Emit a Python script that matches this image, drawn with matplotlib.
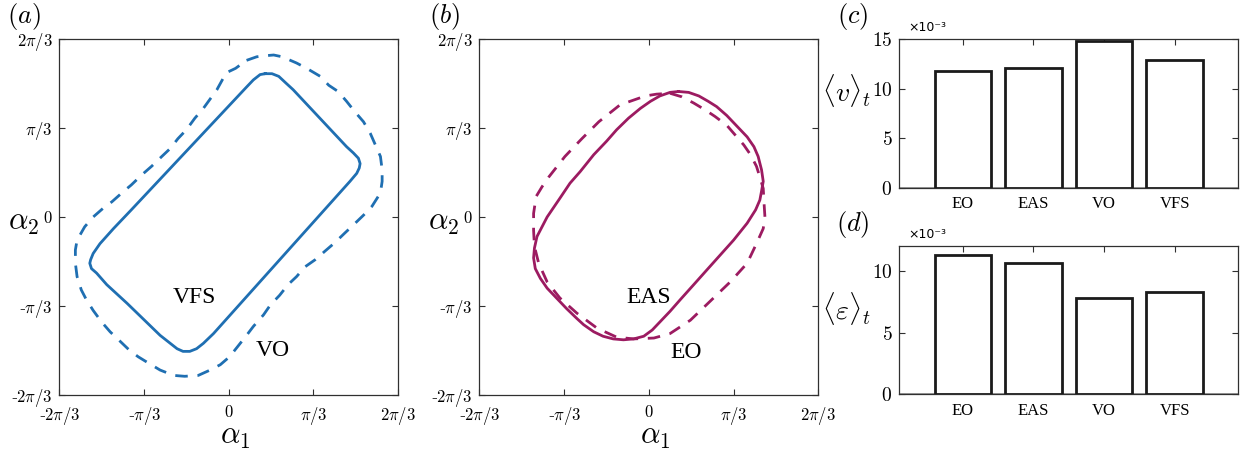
import numpy

import matplotlib
import matplotlib.figure as figure
from matplotlib.backends.backend_agg import FigureCanvasAgg as FigCanvas
from matplotlib.ticker import FixedLocator, FuncFormatter

matplotlib.rcParams['mathtext.fontset'] = 'cm'
matplotlib.rcParams['font.family'] = ['Liberation Serif', 'DejaVu Serif']

# limit cycles in the (alpha_1, alpha_2) plane, in units of pi/3
vfsA1 = [0.43, 0.51, 0.59, 0.68, 0.76, 1.39, 1.47, 1.53, 1.55, 1.54, 1.51, 1.43,
         -0.18, -0.30, -0.38, -0.46, -0.54, -0.61, -0.69, -0.81, -1.20, -1.44,
         -1.56, -1.62, -1.64, -1.63, -1.60, -1.52, -1.36, -1.15, 0.21, 0.29, 0.37]
vfsA2 = [1.61, 1.61, 1.58, 1.50, 1.43, 0.79, 0.72, 0.66, 0.60, 0.55, 0.49, 0.40,
         -1.31, -1.42, -1.48, -1.51, -1.51, -1.48, -1.42, -1.33, -0.97, -0.76,
         -0.63, -0.58, -0.52, -0.48, -0.41, -0.30, -0.13, 0.08, 1.46, 1.54, 1.60]

voA1 = [0.21, 0.33, 0.41, 0.53, 0.63, 0.80, 0.92, 1.08, 1.18, 1.29, 1.39, 1.49,
        1.59, 1.67, 1.73, 1.79, 1.81, 1.81, 1.79, 1.69, 1.59, 1.47, 1.37, 1.25,
        1.14, 1.02, 0.90, 0.80, 0.70, 0.60, 0.49, 0.41, 0.29, 0.21, 0.11, 0.01,
        -0.10, -0.22, -0.36, -0.52, -0.65, -0.81, -0.95, -1.07, -1.18, -1.30,
        -1.40, -1.50, -1.60, -1.68, -1.74, -1.79, -1.81, -1.81, -1.79, -1.70,
        -1.60, -1.48, -1.38, -1.25, -1.15, -1.03, -0.91, -0.79, -0.69, -0.60,
        -0.50, -0.40, -0.30, -0.14, -0.03, 0.08]
voA2 = [1.76, 1.80, 1.81, 1.82, 1.80, 1.73, 1.67, 1.58, 1.48, 1.41, 1.30, 1.18,
        1.07, 0.94, 0.81, 0.68, 0.53, 0.40, 0.27, 0.12, 0.02, -0.09, -0.18, -0.29,
        -0.38, -0.48, -0.56, -0.67, -0.76, -0.88, -0.99, -1.10, -1.23, -1.33,
        -1.45, -1.57, -1.66, -1.72, -1.78, -1.79, -1.78, -1.72, -1.64, -1.57,
        -1.49, -1.38, -1.29, -1.18, -1.05, -0.93, -0.82, -0.67, -0.52, -0.37,
        -0.26, -0.11, 0.00, 0.10, 0.17, 0.28, 0.36, 0.47, 0.57, 0.68, 0.77,
        0.88, 0.98, 1.11, 1.22, 1.43, 1.62, 1.67]

easA1 = [0.35, 0.47, 0.59, 0.70, 0.80, 0.92, 1.04, 1.16, 1.24, 1.29, 1.33, 1.35,
         1.33, 1.31, 1.26, 1.16, 1.00, 0.84, 0.68, 0.53, 0.37, 0.25, 0.13, 0.04,
         -0.06, -0.18, -0.30, -0.42, -0.54, -0.65, -0.77, -0.85, -0.97, -1.09,
         -1.20, -1.28, -1.34, -1.36, -1.35, -1.32, -1.26, -1.20, -1.05, -0.93,
         -0.81, -0.65, -0.50, -0.38, -0.24, -0.10, 0.02, 0.13, 0.25]
easA2 = [1.41, 1.40, 1.36, 1.30, 1.24, 1.14, 1.02, 0.90, 0.79, 0.68, 0.53, 0.40,
         0.29, 0.19, 0.08, -0.07, -0.26, -0.43, -0.60, -0.76, -0.93, -1.06, -1.18,
         -1.27, -1.34, -1.37, -1.38, -1.37, -1.34, -1.29, -1.21, -1.14, -1.03,
         -0.91, -0.80, -0.69, -0.58, -0.46, -0.35, -0.22, -0.11, 0.00, 0.21, 0.38,
         0.51, 0.70, 0.85, 0.98, 1.11, 1.22, 1.30, 1.36, 1.40]

eoA1 = [0.25, 0.39, 0.53, 0.67, 0.78, 0.92, 1.02, 1.12, 1.20, 1.27, 1.31, 1.35,
        1.36, 1.37, 1.35, 1.27, 1.16, 0.96, 0.72, 0.49, 0.25, 0.06, -0.18, -0.38,
        -0.61, -0.85, -1.05, -1.20, -1.30, -1.35, -1.36, -1.36, -1.33, -1.26,
        -1.18, -0.99, -0.79, -0.59, -0.34, -0.04, 0.09]
eoA2 = [1.39, 1.35, 1.28, 1.20, 1.13, 1.03, 0.92, 0.81, 0.70, 0.57, 0.45, 0.32,
        0.15, 0.00, -0.13, -0.30, -0.52, -0.73, -0.95, -1.16, -1.31, -1.36, -1.37,
        -1.35, -1.25, -1.08, -0.91, -0.73, -0.52, -0.33, -0.15, 0.04, 0.23, 0.34,
        0.45, 0.68, 0.88, 1.07, 1.26, 1.36, 1.38]

# time averaged speed and efficiency of each gait
gaits = ['EO', 'EAS', 'VO', 'VFS']
meanSpeed = [11.8, 12.1, 14.8, 12.9]      # x 1e-3
meanEff = [11.3, 10.6, 7.8, 8.3]          # x 1e-3

phaseTicks = [-2, -1, 0, 1, 2]
phaseLabels = ['-$2\\pi/3$', '-$\\pi/3$', '$0$', '$\\pi/3$', '$2\\pi/3$']

BLUE = '#1f6fb2'
PURPLE = '#9c1b61'
SPINE = '#303030'


def closed(a, b):
    x = numpy.array(list(a) + [a[0]]) * numpy.pi / 3
    y = numpy.array(list(b) + [b[0]]) * numpy.pi / 3
    return x, y


def styleAxes(ax):
    for s in ax.spines.values():
        s.set_color(SPINE)
        s.set_linewidth(0.9)
    ax.tick_params(direction='in', top=True, right=True, length=4,
                   color=SPINE, labelsize=12, width=0.8)


def phasePanel(ax, curves, labels):
    for (a, b, color, dashed) in curves:
        x, y = closed(a, b)
        line, = ax.plot(x, y, color=color, lw=2.0, solid_joinstyle='round')
        if dashed:
            line.set_dashes((4.5, 3.5))
    lim = 2 * numpy.pi / 3
    ax.set_xlim(-lim, lim)
    ax.set_ylim(-lim, lim)
    ticks = [t * numpy.pi / 3 for t in phaseTicks]
    ax.xaxis.set_major_locator(FixedLocator(ticks))
    ax.yaxis.set_major_locator(FixedLocator(ticks))
    ax.set_xticklabels(phaseLabels)
    ax.set_yticklabels(phaseLabels)
    styleAxes(ax)
    ax.tick_params(axis='x', labelsize=12, pad=7)
    ax.tick_params(axis='y', labelsize=12, pad=5)
    ax.set_xlabel('$\\alpha_1$', fontsize=22, va='center', ha='center')
    ax.xaxis.set_label_coords(0.518, -0.118)
    ax.set_ylabel('$\\alpha_2$', fontsize=22, rotation=0, va='center', ha='center')
    ax.yaxis.set_label_coords(-0.105, 0.485)
    for (tx, ty, s) in labels:
        ax.text(tx * numpy.pi / 3, ty * numpy.pi / 3, s, fontsize=17,
                ha='center', va='center')


def barPanel(ax, values, top, yticks, ylabel, labelY):
    pos = numpy.arange(1, len(values) + 1)
    ax.bar(pos, values, width=0.8, facecolor='white', edgecolor='#1a1a1a',
           linewidth=2.0, zorder=3)
    ax.axhline(0, color='#8a8a8a', lw=1.2, zorder=2)
    ax.set_xlim(0.1, 4.9)
    ax.set_ylim(0, top)
    ax.set_xticks(pos)
    ax.set_xticklabels(gaits, fontsize=12)
    ax.set_yticks(yticks)
    ax.yaxis.set_major_formatter(FuncFormatter(lambda v, p: '$%d$' % v))
    styleAxes(ax)
    ax.tick_params(axis='x', labelsize=12, pad=6)
    ax.tick_params(axis='y', labelsize=14, pad=5)
    ax.set_ylabel(ylabel, fontsize=20, rotation=0, va='center', ha='center')
    ax.yaxis.set_label_coords(-0.155, labelY)
    ax.text(0.025, 1.075, '\u00d710\u207b\u00b3', transform=ax.transAxes,
            family='DejaVu Sans', fontsize=9, va='center', ha='left')


fig = figure.Figure(figsize=(12.48, 4.57))
fig.set_dpi(100)
canvas = FigCanvas(fig)

axA = fig.add_axes([0.0475, 0.1357, 0.2716, 0.779])
axB = fig.add_axes([0.3841, 0.1357, 0.2716, 0.779])
axC = fig.add_axes([0.7206, 0.5886, 0.2716, 0.326])
axD = fig.add_axes([0.7206, 0.1372, 0.2716, 0.3245])

phasePanel(axA, [(vfsA1, vfsA2, BLUE, False), (voA1, voA2, BLUE, True)],
           [(-0.41, -0.91, 'VFS'), (0.52, -1.50, 'VO')])
phasePanel(axB, [(easA1, easA2, PURPLE, False), (eoA1, eoA2, PURPLE, True)],
           [(0.0, -0.91, 'EAS'), (0.44, -1.52, 'EO')])

barPanel(axC, meanSpeed, 15, [0, 5, 10, 15], '$\\langle v\\rangle_t$', 0.655)
barPanel(axD, meanEff, 12, [0, 5, 10], '$\\langle \\varepsilon\\rangle_t$', 0.58)

for (px, py, s) in [(0.019, 0.963, '$(a)$'), (0.356, 0.963, '$(b)$'),
                    (0.683, 0.963, '$(c)$'), (0.683, 0.508, '$(d)$')]:
    fig.text(px, py, s, fontsize=19, ha='center', va='center')

fig.savefig('out.png', dpi=100)
